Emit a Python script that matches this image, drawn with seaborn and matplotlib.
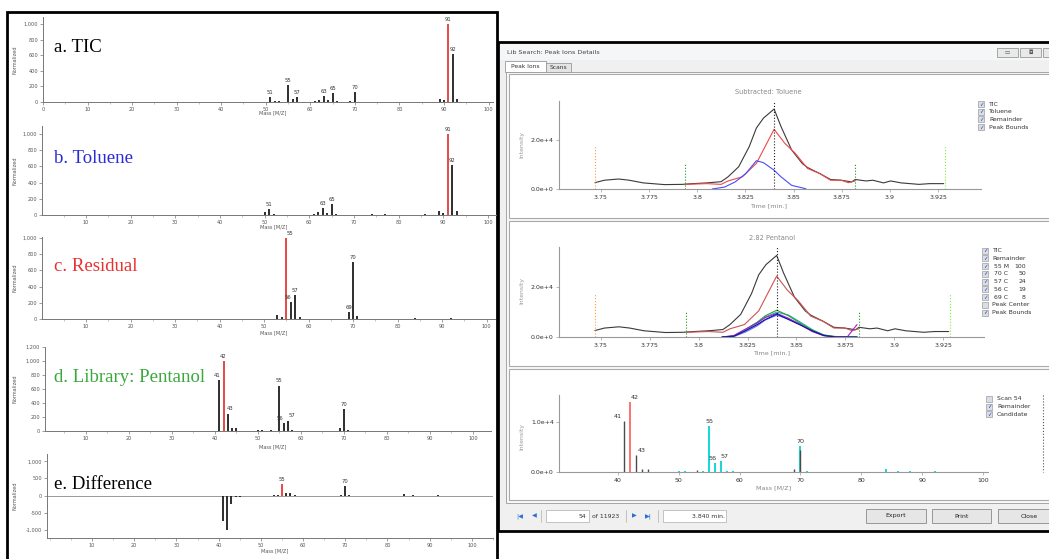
import numpy as np
import pandas as pd
import matplotlib
matplotlib.use("Agg")
import matplotlib.pyplot as plt
import seaborn as sns
from matplotlib.patches import Rectangle
from matplotlib.ticker import FuncFormatter, MultipleLocator

W, H = 1049, 559
sns.set_theme(style="white")
plt.rcParams['font.family'] = ['DejaVu Sans']

# ---------------- left: mass spectra ----------------
tic_mz = [51, 52, 53, 55, 56, 57, 61, 62, 63, 64, 65, 66, 69, 70, 89, 90, 91, 92, 93]
tic_int = [60, 15, 10, 220, 40, 60, 15, 30, 80, 20, 120, 10, 15, 130, 40, 20, 1000, 620, 40]
tic_lab = [51, 55, 57, 63, 65, 70, 91, 92]

tol_mz = [50, 51, 52, 61, 62, 63, 64, 65, 66, 74, 77, 86, 89, 90, 91, 92, 93]
tol_int = [40, 70, 15, 15, 40, 90, 20, 130, 15, 15, 15, 10, 50, 20, 1000, 620, 45]
tol_lab = [51, 63, 65, 91, 92]

res_mz = [53, 54, 55, 56, 57, 58, 69, 70, 71, 84, 87, 88, 92]
res_int = [50, 20, 1000, 210, 300, 30, 90, 700, 40, 10, 5, 5, 10]
res_lab = [55, 56, 57, 69, 70]

lib_mz = [41, 42, 43, 44, 45, 50, 51, 53, 55, 56, 57, 58, 67, 69, 70, 71]
lib_int = [730, 1000, 250, 50, 50, 10, 10, 20, 650, 120, 150, 15, 5, 50, 320, 10]
lib_lab = [41, 42, 43, 55, 56, 57, 70]

dif_mz = [41, 42, 43, 44, 45, 53, 54, 55, 56, 57, 58, 69, 70, 71, 84, 86, 92]
dif_int = [-730, -1000, -250, -40, -40, 20, 30, 350, 90, 80, 20, 30, 270, 20, 50, 20, 20]
dif_lab = [55, 70]

# ---------------- right: chromatograms ----------------
tic_t = [3.7469, 3.7518, 3.7592, 3.7647, 3.7720, 3.7830, 3.7922, 3.7977, 3.8050, 3.8124,
         3.8160, 3.8215, 3.8270, 3.8307, 3.8344, 3.8399, 3.8435, 3.8490, 3.8545, 3.8573,
         3.8637, 3.8692, 3.8747, 3.8802, 3.8820, 3.8876, 3.8912, 3.8967, 3.9004, 3.9059,
         3.9151, 3.9206, 3.9279]
tic_i = [2600, 3600, 4100, 3600, 2500, 1800, 1900, 2200, 2500, 3000,
         5000, 9100, 17400, 25000, 29100, 32800, 25600, 16000, 10500, 8800,
         6300, 3900, 3600, 2900, 3900, 3300, 3600, 2500, 3300, 2500,
         1900, 2200, 2200]
rem_t = [3.7940, 3.8050, 3.8124, 3.8160, 3.8234, 3.8307, 3.8399, 3.8454, 3.8509, 3.8573,
         3.8637, 3.8692, 3.8747, 3.8784, 3.8820]
rem_i = [1900, 2200, 1900, 3300, 5000, 10500, 24500, 18800, 14600, 8400,
         6300, 3600, 3600, 2600, 3300]
tolc_t = [3.8078, 3.8142, 3.8197, 3.8252, 3.8307, 3.8344, 3.8399, 3.8435, 3.8490, 3.8564]
tolc_i = [0, 800, 2900, 6300, 11600, 10800, 7700, 5000, 1500, 100]

ion_t = [3.812, 3.818, 3.824, 3.830, 3.834, 3.840, 3.846, 3.852, 3.858, 3.864, 3.870, 3.876, 3.881]
ion_55 = [0, 300, 2500, 5000, 7000, 9200, 7000, 4800, 2500, 600, 0, 0, 0]
ion_70 = [0, 400, 3000, 6000, 8500, 10800, 8500, 5500, 2800, 800, 100, 0, 0]
ion_57 = [0, 300, 2800, 5500, 8000, 10000, 8800, 6000, 3000, 700, 0, 0, 0]
ion_56 = [0, 600, 3200, 5800, 7800, 9500, 7500, 5000, 2200, 500, 0, 0, 5000]
ion_69 = [0, 200, 2000, 4500, 6800, 8800, 7200, 5200, 2600, 800, 200, 0, 0]

bound_t = [3.7469, 3.7935, 3.8820, 3.9288]
bound_h = [17600, 10500, 10500, 17600]
bound_c = ['#ff9a3c', '#1a9a1a', '#1a9a1a', '#7cf03c']
center_t = 3.840

# scan spectrum (panel 3)
scan_rem_mz = [41, 43, 44, 45, 53, 69, 70]
scan_rem_i = [10200, 3400, 600, 700, 400, 600, 4500]
scan_red_mz = [42]
scan_red_i = [14000]
scan_can_mz = [50, 51, 54, 55, 56, 57, 58, 59, 60, 70, 71, 72, 73, 77, 78, 84, 86, 88, 92]
scan_can_i = [200, 200, 200, 9200, 1800, 2200, 300, 200, 100, 5200, 300, 100, 100, 100, 100, 600, 300, 200, 300]
scan_lab = [41, 42, 43, 55, 56, 57, 70]

fig = plt.figure(figsize=(W / 100, H / 100), dpi=100)
bg = fig.add_axes([0, 0, 1, 1])
bg.set_xlim(0, W); bg.set_ylim(H, 0); bg.axis('off')
bg.set_zorder(-5)


def px_axes(x0, y0, x1, y1):
    a = fig.add_axes([x0 / W, 1 - y1 / H, (x1 - x0) / W, (y1 - y0) / H])
    a.set_facecolor('none')
    return a


def rect(x0, y0, x1, y1, fc='none', ec='none', lw=1, z=0):
    bg.add_patch(Rectangle((x0, y0), x1 - x0, y1 - y0, fc=fc, ec=ec, lw=lw, zorder=z))


comma = FuncFormatter(lambda v, p: f"{int(v):,}")

# left frame
rect(7, 12, 497, 562, fc='white', ec='black', lw=2)


def stem_panel(box, mz, inten, labels, xlim, ylim, yticks, xt0, title, tcolor, xlab_y, red_mz,
               shifts=None):
    shifts = shifts or {}
    ax = px_axes(*box)
    cols = ['#e53935' if m == red_mz else '#1e1e1e' for m in mz]
    ax.vlines(mz, 0, inten, colors=cols, lw=1.3)
    for m, v in zip(mz, inten):
        if m in labels:
            dx = shifts.get(m, 0)
            ax.annotate(str(m), (m, v), xytext=(dx, 1.5), textcoords='offset points',
                        ha='center', va='bottom', fontsize=3.8, color='#333')
    ax.set_xlim(*xlim); ax.set_ylim(*ylim)
    ax.set_yticks(yticks)
    ax.yaxis.set_major_formatter(comma)
    ax.set_xticks(np.arange(xt0, 101, 10))
    ax.xaxis.set_minor_locator(MultipleLocator(5))
    for s in ['top', 'right']:
        ax.spines[s].set_visible(False)
    for s in ['left', 'bottom']:
        ax.spines[s].set_color('#777'); ax.spines[s].set_linewidth(0.7)
    ax.tick_params(axis='both', which='major', length=2, width=0.5, color='#777',
                   labelsize=3.6, labelcolor='#555', pad=1.5)
    ax.tick_params(axis='x', which='minor', length=1.2, width=0.4, color='#999', bottom=True)
    ax.tick_params(left=True, bottom=True)
    ax.set_xlabel('')
    bg.text((box[0] + box[2]) / 2 + 5, xlab_y, 'Mass [M/Z]', fontsize=3.6, color='#555',
            ha='center', va='center')
    bg.text(15, (box[1] + box[3]) / 2, 'Normalized', fontsize=3.6, color='#555',
            rotation=90, ha='center', va='center')
    bg.text(54, box[1] + (box[3] - box[1]) * 0.36, title, fontsize=13.5, color=tcolor,
            family='Liberation Serif', ha='left', va='center')
    return ax


stem_panel((43, 17, 493, 102), tic_mz, tic_int, tic_lab, (0, 101), (0, 1090),
           range(0, 1001, 200), 0, 'a. TIC', 'black', 113, 91)
stem_panel((42, 126, 496, 215), tol_mz, tol_int, tol_lab, (0.15, 101.8), (0, 1099),
           range(0, 1001, 200), 10, 'b. Toluene', '#2a2ad8', 227, 91)
stem_panel((42, 237, 495, 319), res_mz, res_int, res_lab, (0.1, 101.9), (0, 1012),
           range(0, 1001, 200), 10, 'c. Residual', '#e83030', 333, 55,
           shifts={55: 3, 56: -2})
stem_panel((45, 347, 491, 431), lib_mz, lib_int, lib_lab, (0.47, 104.2), (0, 1200),
           range(0, 1001, 200) if False else range(0, 1201, 200), 10, 'd. Library: Pentanol',
           '#3aa83a', 447, 42, shifts={56: -2.5, 57: 2.5, 41: -1.5, 43: 1.5})
axe = stem_panel((47, 454, 493, 538), dif_mz, dif_int, dif_lab, (-0.66, 105), (-1230, 1212),
                 [-1000, -500, 0, 500, 1000], 10, 'e. Difference', 'black', 551, 55)
axe.axhline(0, color='#999', lw=0.7, zorder=0)

# ---------------- right window ----------------
rect(498, 42, 1052, 531, fc='#f0f0f0', ec='black', lw=2)
rect(500, 44, 1052, 60, fc='#f4f6f8', ec='none')
bg.text(507, 52, 'Lib Search: Peak Ions Details', fontsize=4.6, color='#444', va='center')
for x0, x1 in [(997, 1018), (1020, 1041), (1043, 1060)]:
    rect(x0, 48, x1, 57, fc='#e9e9e9', ec='#999', lw=0.6)
bg.text(1007.5, 52.5, '▭', fontsize=4, ha='center', va='center', color='#555')
bg.text(1030.5, 52.5, '◘', fontsize=4, ha='center', va='center', color='#555')
rect(546, 63, 571, 72, fc='#e4e4e4', ec='#999', lw=0.6)
rect(505, 61, 546, 72, fc='white', ec='#999', lw=0.6)
bg.text(525.5, 66.5, 'Peak Ions', fontsize=4.3, ha='center', va='center', color='#333')
bg.text(558.5, 67.5, 'Scans', fontsize=4.3, ha='center', va='center', color='#333')
rect(506, 72, 1052, 503, fc='#f8f8f8', ec='#999', lw=0.6)
for y0, y1 in [(74, 218), (221, 366), (369, 500)]:
    rect(509, y0, 1052, y1, fc='white', ec='#aaa', lw=0.8)


def style_right(ax):
    for s in ['top', 'right']:
        ax.spines[s].set_visible(False)
    for s in ['left', 'bottom']:
        ax.spines[s].set_color('#999'); ax.spines[s].set_linewidth(0.8)
    ax.tick_params(axis='both', length=2, width=0.5, color='#999', labelsize=4.5,
                   labelcolor='#333', pad=2, left=True, bottom=True)
    ax.set_xlabel(''); ax.set_ylabel('')


sci = FuncFormatter(lambda v, p: f"{v:.1e}".replace('e+04', 'e+4').replace('e+00', 'e+0'))
tticks = [3.75, 3.775, 3.8, 3.825, 3.85, 3.875, 3.9, 3.925]
tlabels = ['3.75', '3.775', '3.8', '3.825', '3.85', '3.875', '3.9', '3.925']


def bounds(ax, top):
    ax.vlines(bound_t, 0, bound_h, colors=bound_c, lw=0.8, linestyles=':')
    ax.vlines([center_t], 0, top, colors='#222', lw=0.8, linestyles=':')


def checkbox(x, y, checked=True):
    rect(x, y - 3, x + 6, y + 3, fc='#d8dde6', ec='#8a8a8a', lw=0.4, z=2)
    if checked:
        bg.text(x + 3, y + 0.2, '✓', fontsize=4, color='#2040c0', ha='center',
                va='center', zorder=3)


# panel 1
ax1 = px_axes(559.3, 101, 980.8, 189)
sns.lineplot(x=tic_t, y=tic_i, ax=ax1, color='#3a3a3a', lw=0.8, estimator=None)
sns.lineplot(x=rem_t, y=rem_i, ax=ax1, color='#f04848', lw=0.8, estimator=None)
sns.lineplot(x=tolc_t, y=tolc_i, ax=ax1, color='#4a4aff', lw=0.8, estimator=None)
bounds(ax1, 36100)
ax1.set_xlim(3.7284, 3.9472); ax1.set_ylim(0, 36100)
ax1.set_xticks(tticks, tlabels); ax1.set_yticks([0, 20000])
ax1.yaxis.set_major_formatter(sci)
style_right(ax1)
bg.text(768.8, 92, 'Subtracted: Toluene', fontsize=4.8, color='#888', ha='center', va='center')
bg.text(769, 206, 'Time [min.]', fontsize=4.6, color='#888', ha='center', va='center')
bg.text(521.5, 145, 'Intensity', fontsize=4.4, color='#999', rotation=90, ha='center', va='center')
for i, lab in enumerate(['TIC', 'Toluene', 'Remainder', 'Peak Bounds']):
    y = 104 + i * 7.7
    checkbox(978, y)
    bg.text(989, y, lab, fontsize=4.4, color='#333', va='center')

# panel 2
ax2 = px_axes(559.3, 247, 984.3, 337)
sns.lineplot(x=tic_t, y=tic_i, ax=ax2, color='#3a3a3a', lw=0.8, estimator=None)
sns.lineplot(x=rem_t, y=rem_i, ax=ax2, color='#d05050', lw=0.8, estimator=None)
for arr, col in [(ion_69, '#7070ff'), (ion_57, '#20b0b0'), (ion_70, '#30a030'),
                 (ion_56, '#a020d0'), (ion_55, '#1010a0')]:
    sns.lineplot(x=ion_t, y=arr, ax=ax2, color=col, lw=0.8, estimator=None)
bounds(ax2, 36200)
ax2.set_xlim(3.7287, 3.9461); ax2.set_ylim(0, 36200)
ax2.set_xticks(tticks, tlabels); ax2.set_yticks([0, 20000])
ax2.yaxis.set_major_formatter(sci)
style_right(ax2)
bg.text(772, 238, '2.82 Pentanol', fontsize=4.8, color='#888', ha='center', va='center')
bg.text(772, 353, 'Time [min.]', fontsize=4.6, color='#888', ha='center', va='center')
bg.text(521.5, 290, 'Intensity', fontsize=4.4, color='#999', rotation=90, ha='center', va='center')
leg2 = [('TIC', '', True), ('Remainder', '', True), ('55 M', '100', True), ('70 C', '50', True),
        ('57 C', '24', True), ('56 C', '19', True), ('69 C', '8', True),
        ('Peak Center', '', False), ('Peak Bounds', '', True)]
for i, (lab, num, ck) in enumerate(leg2):
    y = 250.7 + i * 7.75
    checkbox(982, y, ck)
    bg.text(992.5, y, (' ' + lab) if num else lab, fontsize=4.4, color='#333', va='center')
    if num:
        bg.text(1026, y, num, fontsize=4.4, color='#333', va='center', ha='right')

# panel 3
ax3 = px_axes(559.3, 395, 988, 472)
ax3.vlines(scan_can_mz, 0, scan_can_i, colors='#12d8d8', lw=1.4)
ax3.vlines(scan_rem_mz, 0, scan_rem_i, colors='#4a4a4a', lw=1.0)
ax3.vlines(scan_red_mz, 0, scan_red_i, colors='#ff7070', lw=1.4)
allmz = scan_rem_mz + scan_red_mz + scan_can_mz
alli = scan_rem_i + scan_red_i + scan_can_i
scan_shift = {41: ('right', -1), 42: ('left', 1), 43: ('left', 1), 56: ('center', -2),
              57: ('center', 2)}
for m in scan_lab:
    v = max(val for mm, val in zip(allmz, alli) if mm == m)
    ha, dx = scan_shift.get(m, ('center', 0))
    ax3.annotate(str(m), (m, v), xytext=(dx, 1.5), textcoords='offset points',
                 ha=ha, va='bottom', fontsize=4.6, color='#333')
ax3.set_xlim(30.43, 100.77); ax3.set_ylim(0, 15400)
ax3.set_xticks(range(40, 101, 10)); ax3.set_yticks([0, 10000])
ax3.yaxis.set_major_formatter(sci)
style_right(ax3)
bg.text(774, 488, 'Mass [M/Z]', fontsize=4.6, color='#888', ha='center', va='center')
bg.text(521.5, 437, 'Intensity', fontsize=4.4, color='#999', rotation=90, ha='center', va='center')
for i, (lab, ck) in enumerate([('Scan 54', False), ('Remainder', True), ('Candidate', True)]):
    y = 399 + i * 7.5
    checkbox(986, y, ck)
    bg.text(997, y, lab, fontsize=4.4, color='#333', va='center')
bg.plot([1042.6, 1042.6], [395, 472], color='#555', lw=0.8, ls=':')

# toolbar
bg.text(519.7, 516, '|◀', fontsize=4.5, color='#2a6fd0', ha='center', va='center')
bg.text(533.9, 516, '◀', fontsize=4.5, color='#2a6fd0', ha='center', va='center')
rect(546, 510, 588.6, 522, fc='white', ec='#bbb', lw=0.6)
bg.text(586, 516, '54', fontsize=4.4, color='#333', ha='right', va='center')
bg.text(592, 516, 'of 11923', fontsize=4.4, color='#333', ha='left', va='center')
bg.text(634.6, 516, '▶', fontsize=4.5, color='#2a6fd0', ha='center', va='center')
bg.text(648.7, 516, '▶|', fontsize=4.5, color='#2a6fd0', ha='center', va='center')
for xs in (541, 625.7, 657.5):
    bg.plot([xs, xs], [510, 522], color='#bbb', lw=0.6)
rect(663, 510, 726.4, 522, fc='white', ec='#bbb', lw=0.6)
bg.text(724.7, 516, '3.840 min.', fontsize=4.4, color='#333', ha='right', va='center')
for x0, x1, lab in [(866, 926, 'Export'), (932, 991, 'Print'), (998, 1058, 'Close')]:
    rect(x0, 509, x1, 523, fc='#e6e6e6', ec='#8a8a8a', lw=0.6)
    bg.text((x0 + min(x1, 1052)) / 2 + (4 if lab == 'Close' else 0), 516, lab,
            fontsize=4.5, color='#222', ha='center', va='center')

fig.savefig('out.png', dpi=100)
